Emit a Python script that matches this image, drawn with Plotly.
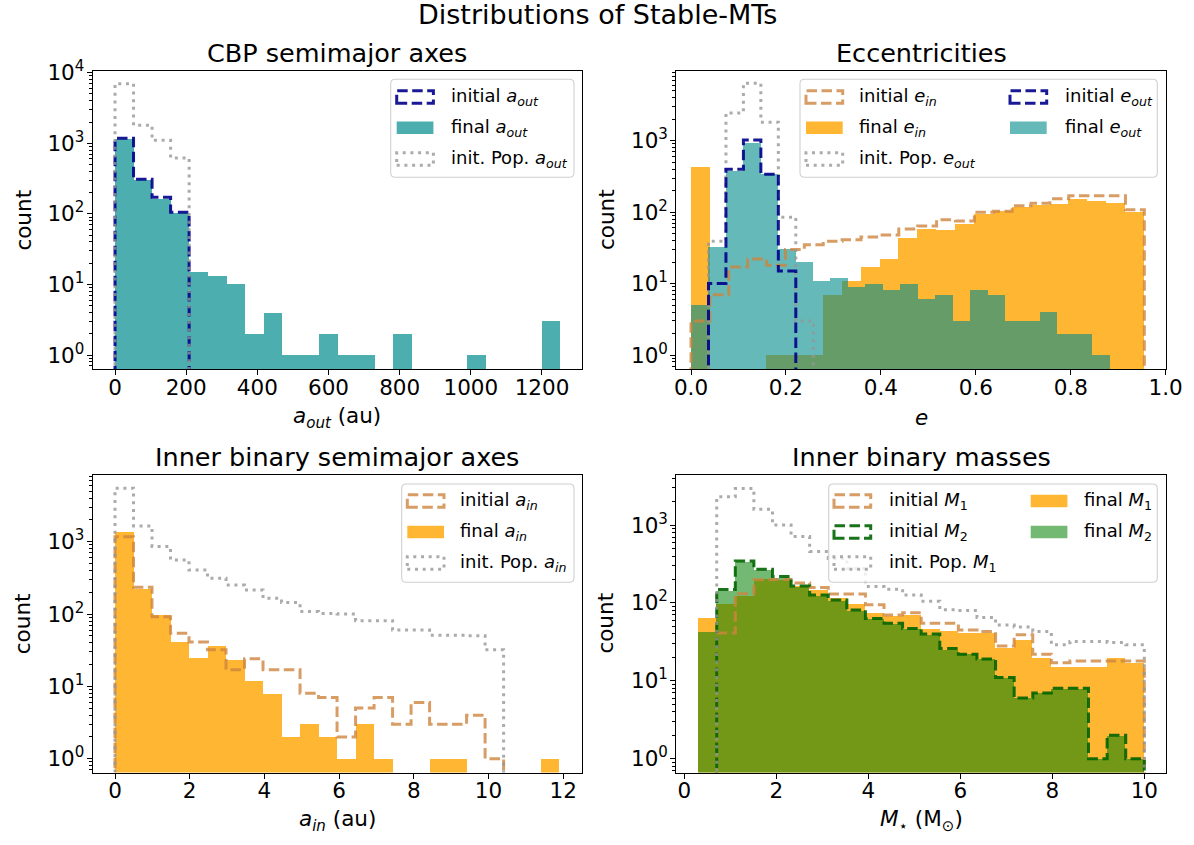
import numpy as np
import plotly.graph_objects as go

W, H = 1194, 845
FONT = "DejaVu Sans"
N_BINS = 24

# ---- histogram ranges (24 equal-width bins each) ----
AOUT_RANGE = (0.0, 1250.0)
EIN_RANGE = (0.0, 0.955)
EOUT_RANGE = (0.0, 0.883)
AIN_RANGE = (0.0, 11.89)
MASS_RANGE = (0.3, 10.0)

# ---- counts per bin ----
# CBP semimajor axis a_out
aout_initial = [1180, 310, 172, 105, 0, 0, 0, 0, 0, 0, 0, 0, 0, 0, 0, 0, 0, 0, 0, 0, 0, 0, 0, 0]
aout_final = [1150, 305, 165, 102, 15, 13, 10, 2, 4, 1, 1, 2, 1, 1, 0, 2, 0, 0, 0, 1, 0, 0, 0, 3]
aout_pop = [7000, 1800, 1100, 620, 0, 0, 0, 0, 0, 0, 0, 0, 0, 0, 0, 0, 0, 0, 0, 0, 0, 0, 0, 0]

# eccentricities
ein_initial = [3, 7, 17, 22, 18, 30, 35, 39, 41, 45, 48, 58, 64, 78, 75, 100, 103, 123, 133, 154, 170, 170, 170, 108]
ein_final = [433, 0, 0, 0, 1, 1, 1, 7, 11, 17, 22, 43, 59, 56, 69, 94, 105, 119, 126, 131, 151, 141, 136, 100]
eout_initial = [0, 10, 400, 1020, 340, 15, 0, 0, 0, 0, 0, 0, 0, 0, 0, 0, 0, 0, 0, 0, 0, 0, 0, 0]
eout_final = [5, 33, 380, 940, 340, 30, 20, 11, 12, 9, 10, 8, 10, 6, 7, 3, 8, 7, 3, 3, 4, 2, 2, 1]
eout_pop = [0, 39, 2450, 6400, 1820, 85, 3, 0, 0, 0, 0, 0, 0, 0, 0, 0, 0, 0, 0, 0, 0, 0, 0, 0]

# inner binary semimajor axis a_in
ain_initial = [1170, 234, 92, 54, 41, 32, 17, 24, 17, 17, 8, 7, 2, 5, 7, 3, 6, 3, 3, 4, 1, 0, 0, 0]
ain_final = [1380, 227, 99, 41, 25, 36, 23, 12, 8, 2, 3, 2, 1, 3, 1, 0, 0, 1, 1, 0, 0, 0, 0, 1]
ain_pop = [5480, 1650, 860, 560, 406, 312, 251, 215, 165, 144, 108, 102, 100, 81, 81, 60, 60, 51, 51, 50, 32, 0, 0, 0]

# inner binary masses
m1_initial = [0, 41, 131, 198, 200, 180, 158, 130, 130, 95, 70, 75, 55, 55, 45, 43, 28, 39, 22, 17, 18, 18, 18, 18]
m1_final = [65, 99, 125, 203, 196, 165, 146, 118, 99, 75, 68, 70, 46, 44, 41, 41, 27, 34, 20, 15, 15, 15, 20, 17]
m2_initial = [0, 149, 345, 270, 218, 165, 126, 109, 81, 63, 55, 47, 40, 26, 22, 19, 11, 6, 7, 8, 8, 1, 2, 1]
m2_final = [43, 145, 335, 265, 212, 160, 124, 106, 79, 62, 54, 46, 39, 25, 22, 19, 11, 6, 7, 8, 8, 1, 2, 1]
m1_pop = [0, 2300, 2950, 1590, 1000, 710, 456, 372, 277, 162, 150, 126, 105, 82, 80, 65, 52, 49, 43, 29, 32, 32, 31, 29]

# ---- styles ----
C_ORANGE = "rgba(255,165,0,0.8)"
C_TEAL1 = "rgba(0,139,139,0.7)"
C_TEAL2 = "rgba(0,139,139,0.6)"
C_GREEN = "rgba(0,128,0,0.55)"
C_NAVY = "rgba(0,0,139,0.9)"
C_PERU = "rgba(205,133,63,0.8)"
C_DKGREEN = "rgba(0,100,0,0.9)"
C_GRAY = "rgba(150,150,150,0.8)"
DASH = "10.5px,4.5px"
DOT = "3px,4.7px"
LW = 3


def edges_of(rng):
    return np.linspace(rng[0], rng[1], N_BINS + 1)


def px_x(x):
    return x / W


def px_y(y):
    return 1 - y / H


fig = go.Figure()


def add_bars(edges, counts, color, ax):
    centers = 0.5 * (edges[:-1] + edges[1:])
    widths = np.diff(edges)
    ys = [c if c > 0 else None for c in counts]
    fig.add_trace(go.Bar(
        x=centers, y=ys, width=widths,
        marker=dict(color=color, line=dict(width=0)),
        xaxis="x" + ax, yaxis="y" + ax, showlegend=False, hoverinfo="skip",
    ))


def add_step(edges, counts, color, dash, ax, floor=1e-2):
    xs = [edges[0]]
    ys = [floor]
    for e, c in zip(edges[:-1], counts):
        xs.append(e)
        ys.append(c if c > 0 else floor)
    xs.append(edges[-1])
    ys.append(counts[-1] if counts[-1] > 0 else floor)
    xs.append(edges[-1])
    ys.append(floor)
    fig.add_trace(go.Scatter(
        x=xs, y=ys, mode="lines", line=dict(color=color, width=LW, dash=dash, shape="hv"),
        xaxis="x" + ax, yaxis="y" + ax, showlegend=False, hoverinfo="skip",
    ))


e_aout = edges_of(AOUT_RANGE)
e_ein = edges_of(EIN_RANGE)
e_eout = edges_of(EOUT_RANGE)
e_ain = edges_of(AIN_RANGE)
e_mass = edges_of(MASS_RANGE)

# panel 1: CBP semimajor axes
add_bars(e_aout, aout_final, C_TEAL1, "")
add_step(e_aout, aout_initial, C_NAVY, DASH, "")
add_step(e_aout, aout_pop, C_GRAY, DOT, "")

# panel 2: eccentricities
add_bars(e_ein, ein_final, C_ORANGE, "2")
add_bars(e_eout, eout_final, C_TEAL2, "2")
add_step(e_ein, ein_initial, C_PERU, DASH, "2")
add_step(e_eout, eout_pop, C_GRAY, DOT, "2")
add_step(e_eout, eout_initial, C_NAVY, DASH, "2")

# panel 3: inner binary semimajor axes
add_bars(e_ain, ain_final, C_ORANGE, "3")
add_step(e_ain, ain_initial, C_PERU, DASH, "3")
add_step(e_ain, ain_pop, C_GRAY, DOT, "3")

# panel 4: inner binary masses
add_bars(e_mass, m1_final, C_ORANGE, "4")
add_bars(e_mass, m2_final, C_GREEN, "4")
add_step(e_mass, m1_initial, C_PERU, DASH, "4")
add_step(e_mass, m2_initial, C_DKGREEN, DASH, "4")
add_step(e_mass, m1_pop, C_GRAY, DOT, "4")

# ---- axes ----
COL_X = [(92.7, 582.2), (676.3, 1165.7)]
ROW_Y = [(71.0, 369.0), (474.7, 772.5)]

panels = [
    dict(col=0, row=0, xr=[-62.7, 1313.0], yr=[-0.198, 4.024],
         xt=[0, 200, 400, 600, 800, 1000, 1200], xfmt="d", ytop=4),
    dict(col=1, row=0, xr=[-0.031, 1.0], yr=[-0.196, 3.976],
         xt=[0.0, 0.2, 0.4, 0.6, 0.8, 1.0], xfmt=".1f", ytop=3),
    dict(col=0, row=1, xr=[-0.597, 12.508], yr=[-0.191, 3.926],
         xt=[0, 2, 4, 6, 8, 10, 12], xfmt="d", ytop=3),
    dict(col=1, row=1, xr=[-0.174, 10.465], yr=[-0.177, 3.646],
         xt=[0, 2, 4, 6, 8, 10], xfmt="d", ytop=3),
]

common = dict(showline=True, linecolor="black", linewidth=1.1, mirror=True,
              ticks="outside", ticklen=5, tickwidth=1.1, tickcolor="black",
              showgrid=False, zeroline=False, automargin=False,
              tickfont=dict(family=FONT, size=21.5, color="black"))

layout_axes = {}
for i, p in enumerate(panels, start=1):
    sfx = "" if i == 1 else str(i)
    x0, x1 = COL_X[p["col"]]
    y0, y1 = ROW_Y[p["row"]]
    xticktext = [format(v, p["xfmt"]) if p["xfmt"] != "d" else str(int(v)) for v in p["xt"]]
    layout_axes["xaxis" + sfx] = dict(
        domain=[px_x(x0), px_x(x1)], range=p["xr"], anchor="y" + sfx,
        tickmode="array", tickvals=p["xt"], ticktext=xticktext,
        ticklabelstandoff=-6, **common)
    majors = [10 ** k for k in range(0, p["ytop"] + 1)]
    minors = [m * 10 ** k for k in range(-1, p["ytop"] + 1) for m in range(2, 10)]
    layout_axes["yaxis" + sfx] = dict(
        domain=[px_y(y1), px_y(y0)], type="log", range=p["yr"], anchor="x" + sfx,
        tickmode="array", tickvals=majors,
        ticktext=[f"10<sup>{k}</sup>" for k in range(0, p["ytop"] + 1)],
        minor=dict(tickmode="array", tickvals=minors, ticks="outside", ticklen=3,
                   tickwidth=0.9, tickcolor="black"),
        ticklabelstandoff=-2, **common)

# ---- text ----
annotations = []


def text(x, y, s, size, xanchor="center", yanchor="middle", angle=0):
    annotations.append(dict(
        x=px_x(x), y=px_y(y), xref="paper", yref="paper", text=s, showarrow=False,
        xanchor=xanchor, yanchor=yanchor, textangle=angle,
        font=dict(family=FONT, size=size, color="black")))


text(597, 15, "Distributions of Stable-MTs", 27)
text(337.45, 53.5, "CBP semimajor axes", 25.5)
text(921, 53.5, "Eccentricities", 25.5)
text(337.45, 457, "Inner binary semimajor axes", 25.5)
text(921, 457, "Inner binary masses", 25.5)

text(337.45, 417, "<i>a</i><sub><i>out</i></sub> (au)", 21.5)
text(921, 417, "<i>e</i>", 21.5)
text(337.45, 820.5, "<i>a</i><sub><i>in</i></sub> (au)", 21.5)
text(921, 820.5, "<i>M</i><sub>⋆</sub> (M<sub>⊙</sub>)", 21.5)

for cx in (22.6, 606.0):
    for cy in (220.0, 623.6):
        text(cx, cy, "count", 21.5, angle=-90)

# ---- legends ----
shapes = []


def rounded_box(x0, y0, x1, y1, r=4.5):
    P = lambda x, y: f"{px_x(x):.6f},{px_y(y):.6f}"
    path = (f"M{P(x0 + r, y0)} L{P(x1 - r, y0)} Q{P(x1, y0)} {P(x1, y0 + r)} "
            f"L{P(x1, y1 - r)} Q{P(x1, y1)} {P(x1 - r, y1)} "
            f"L{P(x0 + r, y1)} Q{P(x0, y1)} {P(x0, y1 - r)} "
            f"L{P(x0, y0 + r)} Q{P(x0, y0)} {P(x0 + r, y0)} Z")
    shapes.append(dict(type="path", path=path, xref="paper", yref="paper",
                       fillcolor="rgba(255,255,255,0.8)",
                       line=dict(color="#d0d0d0", width=1.1), layer="above"))


def legend_entry(xp, yc, kind, color, label, xt, dash=None):
    h = 12.6
    x0, x1 = xp, xp + 36.7
    y0, y1 = yc - h / 2, yc + h / 2
    if kind == "fill":
        shapes.append(dict(type="rect", xref="paper", yref="paper",
                           x0=px_x(x0), x1=px_x(x1), y0=px_y(y1), y1=px_y(y0),
                           fillcolor=color, line=dict(width=0), layer="above"))
    else:
        shapes.append(dict(type="rect", xref="paper", yref="paper",
                           x0=px_x(x0), x1=px_x(x1), y0=px_y(y1), y1=px_y(y0),
                           fillcolor="rgba(0,0,0,0)",
                           line=dict(color=color, width=LW, dash=dash), layer="above"))
    text(xt, yc, label, 18, xanchor="left")


AOUT = "<i>a</i><sub><i>out</i></sub>"
AIN = "<i>a</i><sub><i>in</i></sub>"
EIN = "<i>e</i><sub><i>in</i></sub>"
EOUT = "<i>e</i><sub><i>out</i></sub>"
M1 = "<i>M</i><sub>1</sub>"
M2 = "<i>M</i><sub>2</sub>"

rows_top = (97.0, 127.7, 159.0)
rows_bot = (501.0, 532.0, 563.0)

rounded_box(390.7, 79.3, 574.0, 177.3)
legend_entry(396.7, rows_top[0], "line", C_NAVY, "initial " + AOUT, 449.3, DASH)
legend_entry(396.7, rows_top[1], "fill", C_TEAL1, "final " + AOUT, 449.3)
legend_entry(396.7, rows_top[2], "line", C_GRAY, "init. Pop. " + AOUT, 449.3, DOT)

rounded_box(800.0, 79.3, 1157.3, 177.3)
legend_entry(806.0, rows_top[0], "line", C_PERU, "initial " + EIN, 856.7, DASH)
legend_entry(806.0, rows_top[1], "fill", C_ORANGE, "final " + EIN, 856.7)
legend_entry(806.0, rows_top[2], "line", C_GRAY, "init. Pop. " + EOUT, 856.7, DOT)
legend_entry(1010.0, rows_top[0], "line", C_NAVY, "initial " + EOUT, 1062.7, DASH)
legend_entry(1010.0, rows_top[1], "fill", C_TEAL2, "final " + EOUT, 1062.7)

rounded_box(401.7, 484.0, 574.0, 582.3)
legend_entry(407.3, rows_bot[0], "line", C_PERU, "initial " + AIN, 458.3, DASH)
legend_entry(407.3, rows_bot[1], "fill", C_ORANGE, "final " + AIN, 458.3)
legend_entry(407.3, rows_bot[2], "line", C_GRAY, "init. Pop. " + AIN, 458.3, DOT)

rounded_box(828.7, 484.0, 1157.3, 582.3)
legend_entry(834.0, rows_bot[0], "line", C_PERU, "initial " + M1, 886.7, DASH)
legend_entry(834.0, rows_bot[1], "line", C_DKGREEN, "initial " + M2, 886.7, DASH)
legend_entry(834.0, rows_bot[2], "line", C_GRAY, "init. Pop. " + M1, 886.7, DOT)
legend_entry(1030.7, rows_bot[0], "fill", C_ORANGE, "final " + M1, 1081.7)
legend_entry(1030.7, rows_bot[1], "fill", C_GREEN, "final " + M2, 1081.7)

fig.update_layout(
    width=W, height=H, margin=dict(l=0, r=0, t=0, b=0, autoexpand=False),
    paper_bgcolor="white", plot_bgcolor="white",
    barmode="overlay", bargap=0, showlegend=False,
    font=dict(family=FONT, color="black"),
    annotations=annotations, shapes=shapes,
    **layout_axes,
)

fig.write_html("out.html")
